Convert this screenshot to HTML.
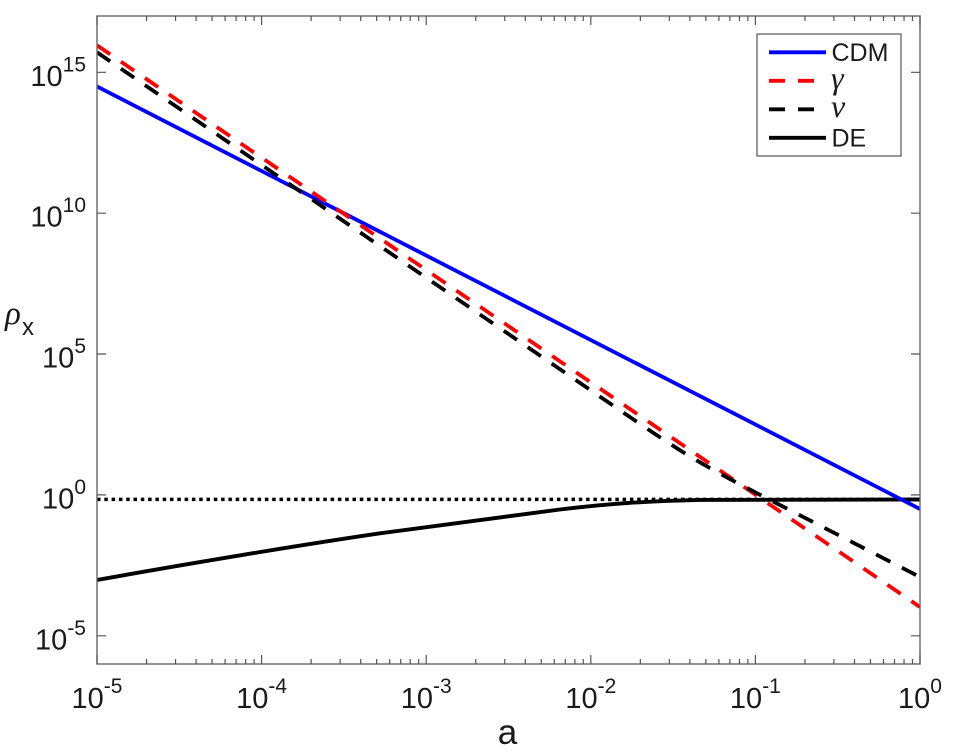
<!DOCTYPE html>
<html>
<head>
<meta charset="utf-8">
<style>
  html,body{margin:0;padding:0;background:#fff;}
  svg{display:block;}
  text{font-family:"Liberation Sans",Arial,sans-serif;fill:#1a1a1a;}
  .g{font-family:"Liberation Serif","Times New Roman",serif;font-style:italic;}
</style>
</head>
<body>
<svg width="960" height="756" viewBox="0 0 960 756" xmlns="http://www.w3.org/2000/svg">
  <defs>
    <clipPath id="clip"><rect x="97" y="16" width="823" height="648"/></clipPath>
  </defs>
  <rect x="0" y="0" width="960" height="756" fill="#fff"/>

  <!-- data -->
  <g clip-path="url(#clip)" fill="none" stroke-linejoin="round">
    <!-- dotted Omega_Lambda -->
    <line x1="97" y1="499.4" x2="920" y2="499.4" stroke="#000" stroke-width="3.5" stroke-dasharray="3.5 3.8"/>
    <!-- DE -->
    <path d="M97,580 C180,565 300,545 380,533.3 C450,523.5 510,516 560,509.5 C610,503.5 650,501 700,499.9 L920,499.5" stroke="#000" stroke-width="3.9"/>
    <!-- CDM -->
    <line x1="97" y1="86.5" x2="920" y2="509" stroke="#0000ff" stroke-width="3.8"/>
    <!-- gamma -->
    <line x1="97" y1="45.3" x2="920" y2="607" stroke="#ff0000" stroke-width="3.8" stroke-dasharray="16 13"/>
    <!-- nu -->
    <path d="M97,52.3 L600,396.65 L640,423.9 L660,437.3 L680,450.26 L694,458.85 L710,468.15 L730,479.07 L760,494.78 L920,577" stroke="#000" stroke-width="3.8" stroke-dasharray="16 13"/>
  </g>

  <!-- axes box -->
  <rect x="97" y="16" width="823" height="648" fill="none" stroke="#666" stroke-width="1.4"/>

  <!-- ticks -->
  <g stroke="#555" stroke-width="1.2" fill="none">
    <path d="M97,664v-9 M261.6,664v-9 M426.2,664v-9 M590.8,664v-9 M755.4,664v-9 M920,664v-9
             M97,16v9 M261.6,16v9 M426.2,16v9 M590.8,16v9 M755.4,16v9 M920,16v9"/>
    <path d="M146.55,664v-5 M175.53,664v-5 M196.1,664v-5 M212.05,664v-5 M225.08,664v-5 M236.1,664v-5 M245.65,664v-5 M254.07,664v-5
             M311.15,664v-5 M340.13,664v-5 M360.7,664v-5 M376.65,664v-5 M389.68,664v-5 M400.7,664v-5 M410.25,664v-5 M418.67,664v-5
             M475.75,664v-5 M504.73,664v-5 M525.3,664v-5 M541.25,664v-5 M554.28,664v-5 M565.3,664v-5 M574.85,664v-5 M583.27,664v-5
             M640.35,664v-5 M669.33,664v-5 M689.9,664v-5 M705.85,664v-5 M718.88,664v-5 M729.9,664v-5 M739.45,664v-5 M747.87,664v-5
             M804.95,664v-5 M833.93,664v-5 M854.5,664v-5 M870.45,664v-5 M883.48,664v-5 M894.5,664v-5 M904.05,664v-5 M912.47,664v-5"/>
    <path d="M146.55,16v5 M175.53,16v5 M196.1,16v5 M212.05,16v5 M225.08,16v5 M236.1,16v5 M245.65,16v5 M254.07,16v5
             M311.15,16v5 M340.13,16v5 M360.7,16v5 M376.65,16v5 M389.68,16v5 M400.7,16v5 M410.25,16v5 M418.67,16v5
             M475.75,16v5 M504.73,16v5 M525.3,16v5 M541.25,16v5 M554.28,16v5 M565.3,16v5 M574.85,16v5 M583.27,16v5
             M640.35,16v5 M669.33,16v5 M689.9,16v5 M705.85,16v5 M718.88,16v5 M729.9,16v5 M739.45,16v5 M747.87,16v5
             M804.95,16v5 M833.93,16v5 M854.5,16v5 M870.45,16v5 M883.48,16v5 M894.5,16v5 M904.05,16v5 M912.47,16v5"/>
    <path d="M97,72.3h9 M97,213.2h9 M97,354h9 M97,494.9h9 M97,635.8h9
             M920,72.3h-9 M920,213.2h-9 M920,354h-9 M920,494.9h-9 M920,635.8h-9"/>
  </g>

  <!-- y tick labels -->
  <g font-size="29" text-anchor="end">
    <text x="86" y="85.8">10<tspan font-size="21" dy="-14.5">15</tspan></text>
    <text x="86" y="226.7">10<tspan font-size="21" dy="-14.5">10</tspan></text>
    <text x="86" y="367.5">10<tspan font-size="21" dy="-14.5">5</tspan></text>
    <text x="86" y="508.4">10<tspan font-size="21" dy="-14.5">0</tspan></text>
    <text x="86" y="649.3">10<tspan font-size="21" dy="-14.5">-5</tspan></text>
  </g>

  <!-- x tick labels -->
  <g font-size="29" text-anchor="middle">
    <text x="97" y="708">10<tspan font-size="21" dy="-15">-5</tspan></text>
    <text x="261.6" y="708">10<tspan font-size="21" dy="-15">-4</tspan></text>
    <text x="426.2" y="708">10<tspan font-size="21" dy="-15">-3</tspan></text>
    <text x="590.8" y="708">10<tspan font-size="21" dy="-15">-2</tspan></text>
    <text x="755.4" y="708">10<tspan font-size="21" dy="-15">-1</tspan></text>
    <text x="920" y="708">10<tspan font-size="21" dy="-15">0</tspan></text>
  </g>

  <!-- axis labels -->
  <text x="507.5" y="744" font-size="35" text-anchor="middle">a</text>
  <text x="5" y="324" font-size="33" class="g">ρ</text>
  <text x="22" y="335" font-size="24">x</text>

  <!-- legend -->
  <rect x="757" y="34" width="144" height="122" fill="#fff" stroke="#555" stroke-width="1.2"/>
  <line x1="769" y1="52.3" x2="826" y2="52.3" stroke="#0000ff" stroke-width="3.8"/>
  <line x1="769" y1="80.8" x2="827" y2="80.8" stroke="#ff0000" stroke-width="3.8" stroke-dasharray="16 13"/>
  <line x1="769" y1="109.3" x2="827" y2="109.3" stroke="#000" stroke-width="3.8" stroke-dasharray="16 13"/>
  <line x1="769" y1="137.8" x2="826" y2="137.8" stroke="#000" stroke-width="3.9"/>
  <text x="831.5" y="61" font-size="25">CDM</text>
  <text x="831" y="88.5" font-size="32" class="g">γ</text>
  <text x="831" y="117" font-size="32" class="g">ν</text>
  <text x="831.5" y="146.6" font-size="25">DE</text>
</svg>
</body>
</html>
